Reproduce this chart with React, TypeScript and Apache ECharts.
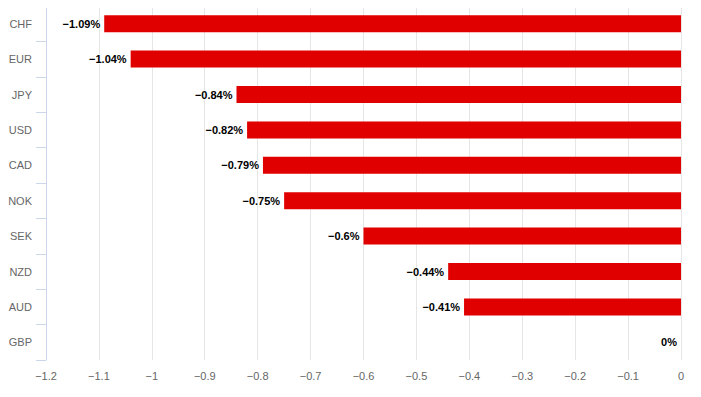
import React, { useEffect, useRef } from "react";
import * as echarts from "echarts";

const categories = ["CHF", "EUR", "JPY", "USD", "CAD", "NOK", "SEK", "NZD", "AUD", "GBP"];
const values = [-1.09, -1.04, -0.84, -0.82, -0.79, -0.75, -0.6, -0.44, -0.41, 0];

const fontFamily = "'Liberation Sans', Arial, sans-serif";

function fmt(v: number): string {
  const s = String(Math.round(v * 1000) / 1000);
  return s.replace("-", "\u2212");
}

export default function App() {
  const ref = useRef<HTMLDivElement>(null);
  useEffect(() => {
    if (!ref.current) return;
    const chart = echarts.init(ref.current, undefined, { renderer: "svg" });
    chart.setOption({
      animation: false,
      textStyle: { fontFamily },
      grid: { left: 46, right: 20, top: 6, bottom: 37, containLabel: false },
      xAxis: {
        type: "value",
        min: -1.2,
        max: 0,
        interval: 0.1,
        axisLine: { show: false },
        axisTick: { show: false },
        splitLine: { show: true, lineStyle: { color: "#e6e6e6", width: 1 } },
        axisLabel: {
          color: "#666666",
          fontSize: 11,
          fontFamily,
          margin: 10,
          formatter: (v: number) => fmt(v),
        },
      },
      yAxis: {
        type: "category",
        inverse: true,
        position: "left",
        data: categories,
        axisLine: { show: true, onZero: false, lineStyle: { color: "#ccd6eb", width: 1 } },
        axisTick: { show: true, length: 10, lineStyle: { color: "#ccd6eb" } },
        splitLine: { show: false },
        axisLabel: { color: "#666666", fontSize: 11, fontFamily, margin: 14 },
      },
      series: [
        {
          type: "bar",
          data: values,
          barWidth: 17,
          itemStyle: { color: "#e00000" },
          label: {
            show: true,
            position: "left",
            distance: 4,
            color: "#000000",
            fontSize: 11,
            fontWeight: "bold",
            fontFamily,
            textBorderColor: "#ffffff",
            textBorderWidth: 1,
            formatter: (p: any) => fmt(p.value) + "%",
          },
        },
      ],
    });
    return () => chart.dispose();
  }, []);
  return <div ref={ref} style={{ width: 701, height: 397, margin: -8 }} />;
}
